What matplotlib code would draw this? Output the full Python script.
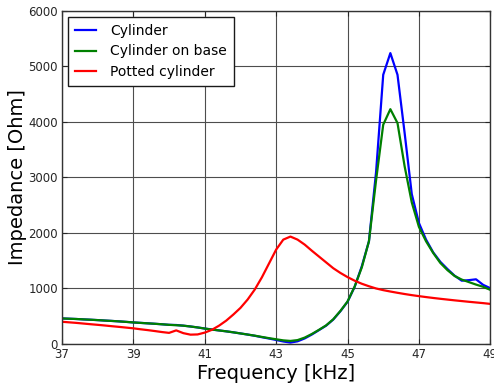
import numpy as np
import matplotlib
matplotlib.use("Agg")
import matplotlib.pyplot as plt

freq = np.round(np.arange(37.0, 49.0001, 0.2), 1)

cylinder = [460, 455, 450, 443, 437, 430, 422, 415, 407, 398,
            388, 380, 372, 364, 355, 345, 342, 330, 315, 298,
            278, 260, 244, 228, 210, 190, 170, 148, 122, 98,
            72, 45, 25, 48, 100, 170, 250, 330, 440, 590,
            760, 1030, 1400, 1850, 3100, 4850, 5240, 4850, 3800, 2700,
            2180, 1880, 1650, 1480, 1350, 1230, 1140, 1150, 1165, 1065,
            1005]
cyl_base = [460, 455, 450, 443, 437, 430, 422, 415, 407, 398,
            388, 380, 372, 364, 355, 345, 338, 330, 315, 298,
            278, 260, 244, 228, 210, 190, 170, 150, 127, 105,
            85, 65, 55, 70, 115, 180, 255, 335, 445, 595,
            765, 1035, 1380, 1850, 2950, 3950, 4230, 3980, 3200, 2550,
            2110, 1850, 1640, 1460, 1330, 1225, 1160, 1115, 1070, 1030,
            975]
potted = [400, 390, 380, 368, 356, 345, 333, 320, 308, 295,
          282, 265, 250, 233, 215, 200, 245, 195, 168, 172,
          205, 255, 330, 420, 530, 650, 800, 980, 1200, 1450,
          1700, 1880, 1935, 1880, 1790, 1680, 1575, 1470, 1365, 1280,
          1205, 1140, 1085, 1040, 1000, 970, 945, 922, 900, 880,
          862, 845, 829, 814, 800, 786, 773, 760, 748, 736,
          722]

series = [("Cylinder", cylinder, "b"),
          ("Cylinder on base", cyl_base, "g"),
          ("Potted cylinder", potted, "r")]

fig = plt.figure(figsize=(4.94, 3.90), dpi=100)
ax = fig.add_axes([0.1255, 0.118, 0.867, 0.854])
for name, vals, c in series:
    ax.plot(freq, vals, color=c, lw=1.6, label=name)

ax.set_xlim(37, 49)
ax.set_ylim(0, 6000)
ax.set_xticks(np.arange(37, 50, 2))
ax.set_yticks(np.arange(0, 6001, 1000))
ax.grid(True, color="0.3", lw=0.8, ls="-")
ax.set_axisbelow(True)
ax.tick_params(direction="in", labelsize=8.5, colors="0.15", top=True, right=True, pad=3)
for s in ax.spines.values():
    s.set_color("0.2")
    s.set_linewidth(1.0)
ax.set_xlabel("Frequency [kHz]", fontsize=14, labelpad=2)
ax.set_ylabel("Impedance [Ohm]", fontsize=14, labelpad=1)
leg = ax.legend(loc="upper left", fontsize=10, fancybox=False, framealpha=1,
                edgecolor="0.1", handlelength=1.5, handletextpad=1.0,
                borderpad=0.5, borderaxespad=0.45, labelspacing=0.45)
leg.get_frame().set_linewidth(1.0)
fig.savefig("out.png", dpi=100)
